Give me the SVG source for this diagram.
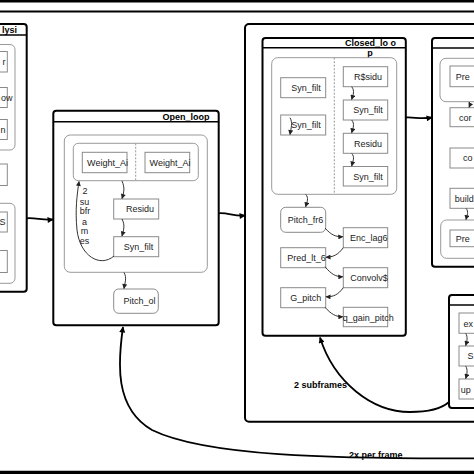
<svg xmlns="http://www.w3.org/2000/svg" width="474" height="474" viewBox="0 0 474 474">
<defs>
<marker id="ah" viewBox="0 0 10 10" refX="9" refY="5" markerWidth="6" markerHeight="5" markerUnits="userSpaceOnUse" orient="auto"><path d="M0,0 L10,5 L0,10 z" fill="#222"/></marker>
<marker id="bh" viewBox="0 0 10 10" refX="9" refY="5" markerWidth="8" markerHeight="6" markerUnits="userSpaceOnUse" orient="auto"><path d="M0,0 L10,5 L0,10 z" fill="#000"/></marker>
<style>
.cont{fill:#fff;stroke:#000;stroke-width:2}
.hdr{stroke:#000;stroke-width:1.6}
.grp{fill:none;stroke:#999;stroke-width:1}
.box{fill:#fff;stroke:#8a8a8a;stroke-width:1}
.div{stroke:#999;stroke-width:1;stroke-dasharray:2,1.5}
text{font-family:"Liberation Sans",Arial,sans-serif;font-size:9px;fill:#222}
.ttl{font-weight:bold;fill:#000}
.m{text-anchor:middle}
.e{text-anchor:end}
.edge{fill:none;stroke:#333;stroke-width:1;marker-end:url(#ah)}
.bedge{fill:none;stroke:#000;stroke-width:1.8;marker-end:url(#bh)}
</style>
</defs>
<rect width="474" height="474" fill="#fff"/>
<g id="frame">
<line x1="0" y1="1" x2="474" y2="1" stroke="#000" stroke-width="3"/>
<line x1="0" y1="11.5" x2="474" y2="11.5" stroke="#000" stroke-width="2"/>
<line x1="0" y1="472.5" x2="474" y2="472.5" stroke="#000" stroke-width="3.5"/>
</g>
<g id="analysis">
<rect class="cont" x="-20" y="24" width="46.7" height="267.7" rx="3"/>
<line class="hdr" x1="-20" y1="35" x2="26.7" y2="35"/>
<text class="ttl e" x="17" y="33">lysi</text>
<rect class="grp" x="-20" y="44.5" width="35" height="105.5" rx="5"/>
<rect class="box" x="-30" y="51.5" width="37.3" height="20.5"/>
<text class="e" x="5.5" y="65">r</text>
<rect class="box" x="-30" y="87.5" width="37.3" height="20"/>
<text class="e" x="12.5" y="100.5">ow</text>
<rect class="box" x="-30" y="119.5" width="37.3" height="20"/>
<text class="e" x="5.5" y="132.5">n</text>
<rect class="box" x="-30" y="164" width="37.3" height="21.5"/>
<rect class="grp" x="-20" y="203.3" width="35" height="80" rx="5"/>
<rect class="box" x="-30" y="212" width="37.3" height="20"/>
<text class="e" x="5.5" y="225">S</text>
<rect class="box" x="-30" y="250.5" width="37.3" height="22"/>
</g>
<g id="open_loop">
<rect class="cont" x="53.3" y="110.7" width="165.4" height="214.6" rx="3"/>
<line class="hdr" x1="53.3" y1="121.7" x2="218.7" y2="121.7"/>
<text class="ttl e" x="209.5" y="119.5">Open_loop</text>
<rect class="grp" x="64.3" y="135" width="143" height="137.3" rx="6"/>
<rect class="grp" x="73.3" y="143.3" width="125" height="37.4" rx="5"/>
<line class="div" x1="135.7" y1="143.3" x2="135.7" y2="180.7"/>
<rect class="box" x="82.3" y="152.3" width="44.7" height="20.4"/>
<text class="m" x="107.5" y="165.5">Weight_Ai</text>
<rect class="box" x="145" y="152.3" width="44.7" height="20.4"/>
<text class="m" x="170" y="165.5">Weight_Ai</text>
<rect class="box" x="113.7" y="199" width="45" height="20"/>
<text class="m" x="140" y="212.3">Residu</text>
<rect class="box" x="113.7" y="236.7" width="45" height="20"/>
<text class="m" x="138.5" y="250">Syn_filt</text>
<rect class="box" x="113.7" y="289" width="44.6" height="24.3" rx="5"/>
<text class="m" x="139.5" y="304">Pitch_ol</text>
<text class="m" x="85" y="193.5">2</text>
<text class="m" x="84.5" y="205">su</text>
<text class="m" x="85" y="214">bfr</text>
<text class="m" x="84.5" y="224.5">a</text>
<text class="m" x="84.5" y="234">m</text>
<text class="m" x="84.5" y="244">es</text>
</g>
<g id="closed_outer">
<rect class="cont" x="245" y="24" width="260" height="397.7" rx="4"/>
</g>
<g id="closed_loop">
<rect class="cont" x="262.5" y="38" width="143.3" height="297.7" rx="3"/>
<line class="hdr" x1="262.5" y1="47.7" x2="405.8" y2="47.7"/>
<text class="ttl e" x="396" y="45.5">Closed_lo o</text>
<text class="ttl m" x="370" y="55.5">p</text>
<rect class="grp" x="271.7" y="57.7" width="125" height="136.6" rx="6"/>
<line class="div" x1="334.3" y1="57.7" x2="334.3" y2="194.3"/>
<rect class="box" x="280.7" y="77.7" width="45" height="20"/>
<text class="m" x="306" y="91">Syn_filt</text>
<rect class="box" x="280.7" y="115" width="45" height="20"/>
<text class="m" x="306" y="128.3">Syn_filt</text>
<rect class="box" x="343.3" y="66.7" width="44.4" height="20"/>
<text class="m" x="368" y="80">R$sidu</text>
<rect class="box" x="343.3" y="100" width="44.4" height="20"/>
<text class="m" x="368" y="113.3">Syn_filt</text>
<rect class="box" x="343.3" y="133.3" width="44.4" height="20"/>
<text class="m" x="368" y="146.6">Residu</text>
<rect class="box" x="343.3" y="166.5" width="44.4" height="19.5"/>
<text class="m" x="368" y="179.6">Syn_filt</text>
<rect class="box" x="280.7" y="207.3" width="45" height="25" rx="5"/>
<text class="m" x="305.5" y="222.8">Pitch_fr6</text>
<rect class="box" x="343.3" y="227.7" width="44.4" height="20"/>
<text class="m" x="368.7" y="241">Enc_lag6</text>
<rect class="box" x="280.7" y="247.7" width="45" height="20"/>
<text class="m" x="306.5" y="261">Pred_lt_6</text>
<rect class="box" x="343.3" y="267.7" width="44.4" height="20"/>
<text class="m" x="369" y="281">Convolv$</text>
<rect class="box" x="280.7" y="287.7" width="45" height="20"/>
<text class="m" x="305.7" y="301">G_pitch</text>
<rect class="box" x="343.3" y="307.3" width="44.4" height="19.4"/>
<text class="m" x="368.3" y="320.5">q_gain_pitch</text>
</g>
<g id="right_top">
<rect class="cont" x="432" y="38" width="60" height="228.7" rx="3"/>
<line class="hdr" x1="432" y1="48" x2="492" y2="48"/>
<rect class="grp" x="440" y="58.3" width="50" height="43.4" rx="6"/>
<rect class="box" x="450" y="66" width="40" height="20.7"/>
<text x="455.7" y="79.5">Pre</text>
<rect class="box" x="450" y="107.7" width="40" height="19"/>
<text x="459" y="120.5">cor</text>
<rect class="box" x="450" y="148" width="40" height="20"/>
<text x="463" y="161.3">co</text>
<rect class="box" x="450" y="188.3" width="40" height="20"/>
<text x="454.7" y="201.5">build</text>
<rect class="grp" x="440.7" y="220" width="50" height="38.3" rx="6"/>
<rect class="box" x="450" y="230" width="40" height="16.7"/>
<text x="455.7" y="241.5">Pre</text>
</g>
<g id="right_bottom">
<rect class="cont" x="449" y="295" width="40" height="113" rx="3"/>
<line class="hdr" x1="449" y1="305" x2="489" y2="305"/>
<rect class="box" x="459" y="313" width="30" height="20.3"/>
<text x="463.5" y="326.5">ex</text>
<rect class="box" x="459" y="346" width="30" height="20"/>
<text x="467.5" y="359.3">S</text>
<rect class="box" x="459" y="379" width="30" height="20"/>
<text x="460.7" y="392.5">up</text>
</g>
<g id="connectors">
<path class="bedge" d="M26.7,218.3 C36,217.5 42,220.5 53,219.5"/>
<path class="bedge" d="M218.7,213.3 C228,212.5 234,216.5 245,215.5"/>
<path class="bedge" d="M405.8,117.5 C415,117 420,119.5 432,117.5"/>
<path class="bedge" d="M474,458.3 C330,459 205,456 152,430 C114,408 118,362 123,327"/>
<text class="ttl" x="349" y="457.5">2x per frame</text>
<path class="bedge" d="M449,402 C440,410 425,412 410,412 C372,412 334,382 320,337.5"/>
<text class="ttl" x="294" y="388">2 subframes</text>
<path class="edge" d="M122,181 C125,188 124,192 122,198.5"/>
<path class="edge" d="M122,219 C125,225 124,229 122,236"/>
<path class="edge" d="M114,256 C100,268 80,256 77,230 C75,210 77,195 79,181.5"/>
<path class="edge" d="M124,272.5 C127,278 125,282 124,288.5"/>
<path class="edge" d="M290,117.7 C293,123 291,128 290,134.5"/>
<path class="edge" d="M351.7,86.7 C355,91 353,95 351.7,99.5"/>
<path class="edge" d="M351.7,120 C355,124 353,128 351.7,132.8"/>
<path class="edge" d="M351.7,153.3 C355,157 353,161 351.7,166"/>
<path class="edge" d="M305.7,194.3 C309,198 307,202 305.7,206.8"/>
<path class="edge" d="M325,228 C331,235 336,237 342.8,236.7"/>
<path class="edge" d="M343.3,247.7 C338,255 333,257 326,257.3"/>
<path class="edge" d="M325,266.7 C331,274 336,277 342.8,276.7"/>
<path class="edge" d="M343.3,287.7 C338,295 333,297 326,296.7"/>
<path class="edge" d="M325,307.3 C331,314 336,317 342.8,316.7"/>
<path class="edge" d="M469,102 C471,104 470,105 469,107.3"/>
<path class="edge" d="M466,208.3 C469,212 467,215 466,219.6"/>
<path class="edge" d="M465.7,333.3 C468,337 467,341 465.7,345.6"/>
<path class="edge" d="M465.7,366 C468,370 467,374 465.7,378.6"/>
</g>
</svg>
